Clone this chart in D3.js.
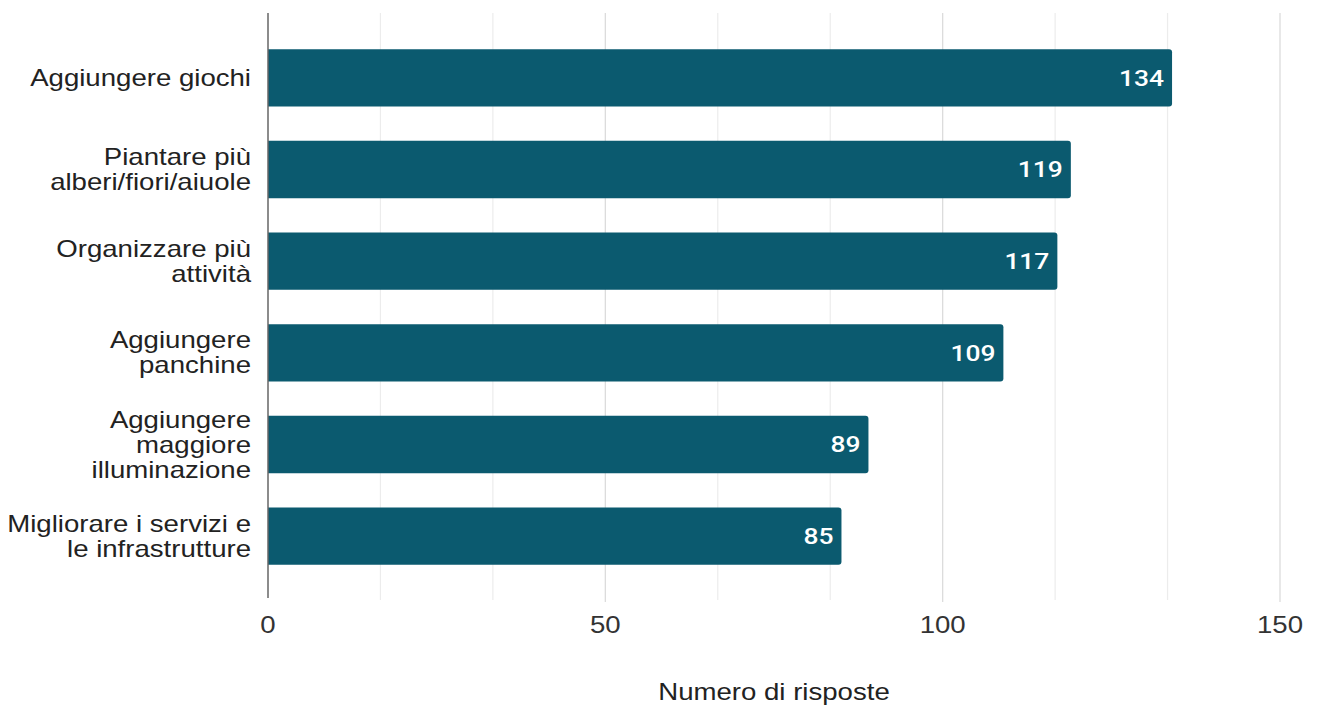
<!DOCTYPE html>
<html>
<head>
<meta charset="utf-8">
<script src="https://cdn.jsdelivr.net/npm/d3@7"></script>
<style>
  html, body { margin: 0; padding: 0; background: #fff; }
  svg { display: block; }
</style>
</head>
<body>
<svg id="chart" width="1317" height="706"></svg>
<script>
// ---- data ----
const categories = [
  "Aggiungere giochi",
  "Piantare più alberi/fiori/aiuole",
  "Organizzare più attività",
  "Aggiungere panchine",
  "Aggiungere maggiore illuminazione",
  "Migliorare i servizi e le infrastrutture"
];
const labelLines = [
  ["Aggiungere giochi"],
  ["Piantare più", "alberi/fiori/aiuole"],
  ["Organizzare più", "attività"],
  ["Aggiungere", "panchine"],
  ["Aggiungere", "maggiore", "illuminazione"],
  ["Migliorare i servizi e", "le infrastrutture"]
];
const values = [134, 119, 117, 109, 89, 85];
const tickValues = [0, 50, 100, 150];
const axisTitle = "Numero di risposte";

// ---- layout ----
const svg = d3.select("#chart");
const SX = 1.2; // horizontal text stretch seen in reference
const x = d3.scaleLinear().domain([0, 150]).range([268, 1280]);
const y = d3.scaleBand().domain(categories).range([32, 582])
  .paddingInner(0.375).paddingOuter(0.1875);
const gridTop = 13, gridBottom = 600;

// minor gridlines
const minor = d3.range(0, 151, 50 / 3).filter(v => Math.abs(v % 50) > 1e-6 && Math.abs(v % 50 - 50) > 1e-6);
svg.append("g").selectAll("line").data(minor).join("line")
  .attr("x1", d => x(d)).attr("x2", d => x(d))
  .attr("y1", gridTop).attr("y2", gridBottom)
  .attr("stroke", "#ececec").attr("stroke-width", 1.2);
// major gridlines
svg.append("g").selectAll("line").data(tickValues.filter(d => d > 0)).join("line")
  .attr("x1", d => x(d)).attr("x2", d => x(d))
  .attr("y1", gridTop).attr("y2", gridBottom + 2)
  .attr("stroke", "#dcdcdc").attr("stroke-width", 1.3);

// bars
const barColor = "#0b5a6f";
const r = 3;
svg.append("g").selectAll("path").data(values).join("path")
  .attr("d", (d, i) => {
    const x0 = x(0), x1 = x(d), y0 = y(categories[i]), h = y.bandwidth();
    return `M${x0},${y0} H${x1 - r} Q${x1},${y0} ${x1},${y0 + r} V${y0 + h - r} Q${x1},${y0 + h} ${x1 - r},${y0 + h} H${x0} Z`;
  })
  .attr("fill", barColor);

// zero axis line
svg.append("line")
  .attr("x1", x(0)).attr("x2", x(0))
  .attr("y1", gridTop).attr("y2", gridBottom - 2)
  .attr("stroke", "#666").attr("stroke-width", 1.5);

// helper for stretched text
function stretchedText(parent, tx, ty, str, opts) {
  const g = parent.append("g").attr("transform", `translate(${tx},${ty})`);
  const t = g.append("text")
    .attr("transform", `scale(${SX},1)`)
    .attr("text-anchor", opts.anchor || "start")
    .attr("dominant-baseline", "central")
    .attr("font-family", opts.family || "'Liberation Sans', Arial, sans-serif")
    .attr("font-size", opts.size || 23)
    .attr("font-weight", opts.weight || 400)
    .attr("fill", opts.fill || "#222")
    .text(str);
  return t;
}

// category labels
const labelsG = svg.append("g");
labelLines.forEach((lines, i) => {
  const cy = y(categories[i]) + y.bandwidth() / 2;
  const lh = 25;
  lines.forEach((ln, j) => {
    const ly = cy + (j - (lines.length - 1) / 2) * lh;
    stretchedText(labelsG, 251, ly, ln, { anchor: "end" });
  });
});

// value labels
const valG = svg.append("g");
values.forEach((v, i) => {
  const cy = y(categories[i]) + y.bandwidth() / 2;
  stretchedText(valG, x(v) - 8, cy, String(v), {
    anchor: "end", fill: "#fff", weight: 500,
    family: "Roboto, 'Liberation Sans', sans-serif", size: 22
  });
});

// tick labels
const tickG = svg.append("g");
tickValues.forEach(v => {
  stretchedText(tickG, x(v), 625, String(v), { anchor: "middle", fill: "#333" });
});

// axis title
stretchedText(svg, (x(0) + x(150)) / 2, 692, axisTitle, { anchor: "middle", fill: "#222" });
</script>
</body>
</html>
